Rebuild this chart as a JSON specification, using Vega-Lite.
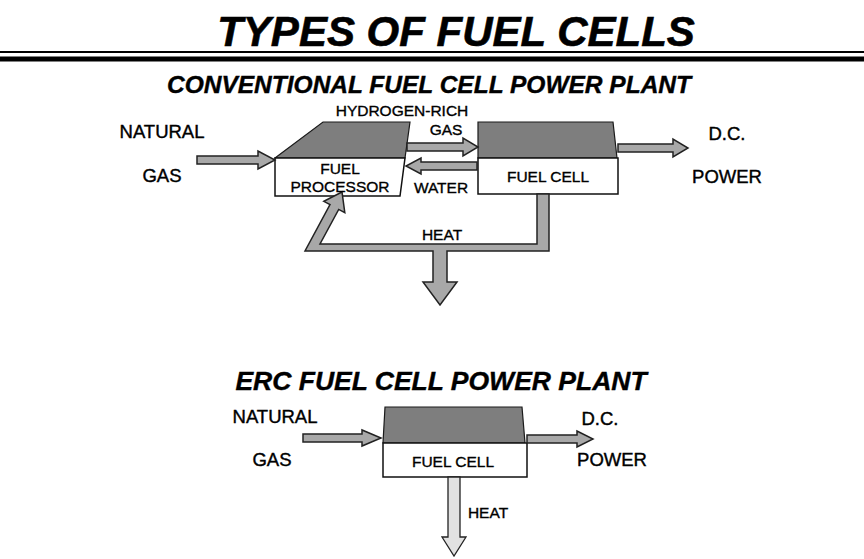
{
  "$schema": "https://vega.github.io/schema/vega-lite/v6.json",
  "width": 864,
  "height": 559,
  "padding": 0,
  "autosize": {"type": "none"},
  "background": "white",
  "config": {"view": {"stroke": null}},
  "datasets": {
    "shapes": [
      {"id": "proc_top", "kind": "top", "i": 1, "x": 275, "y": 158},
      {"id": "proc_top", "kind": "top", "i": 2, "x": 323, "y": 122},
      {"id": "proc_top", "kind": "top", "i": 3, "x": 410, "y": 122},
      {"id": "proc_top", "kind": "top", "i": 4, "x": 405, "y": 158},
      {"id": "proc_box", "kind": "box", "i": 1, "x": 275, "y": 158},
      {"id": "proc_box", "kind": "box", "i": 2, "x": 405, "y": 158},
      {"id": "proc_box", "kind": "box", "i": 3, "x": 400, "y": 196},
      {"id": "proc_box", "kind": "box", "i": 4, "x": 275, "y": 196},
      {"id": "fc_top", "kind": "top", "i": 1, "x": 478, "y": 122},
      {"id": "fc_top", "kind": "top", "i": 2, "x": 613, "y": 122},
      {"id": "fc_top", "kind": "top", "i": 3, "x": 617, "y": 158},
      {"id": "fc_top", "kind": "top", "i": 4, "x": 478, "y": 158},
      {"id": "fc_box", "kind": "box", "i": 1, "x": 478, "y": 158},
      {"id": "fc_box", "kind": "box", "i": 2, "x": 618, "y": 158},
      {"id": "fc_box", "kind": "box", "i": 3, "x": 618, "y": 194},
      {"id": "fc_box", "kind": "box", "i": 4, "x": 478, "y": 194},
      {"id": "erc_top", "kind": "top", "i": 1, "x": 385, "y": 407},
      {"id": "erc_top", "kind": "top", "i": 2, "x": 522, "y": 407},
      {"id": "erc_top", "kind": "top", "i": 3, "x": 525, "y": 443},
      {"id": "erc_top", "kind": "top", "i": 4, "x": 383, "y": 443},
      {"id": "erc_box", "kind": "box", "i": 1, "x": 383, "y": 443},
      {"id": "erc_box", "kind": "box", "i": 2, "x": 527, "y": 443},
      {"id": "erc_box", "kind": "box", "i": 3, "x": 527, "y": 477},
      {"id": "erc_box", "kind": "box", "i": 4, "x": 383, "y": 477},

      {"id": "ng1", "kind": "arrow", "i": 1, "x": 197, "y": 156},
      {"id": "ng1", "kind": "arrow", "i": 2, "x": 258, "y": 156},
      {"id": "ng1", "kind": "arrow", "i": 3, "x": 258, "y": 151},
      {"id": "ng1", "kind": "arrow", "i": 4, "x": 275, "y": 160},
      {"id": "ng1", "kind": "arrow", "i": 5, "x": 258, "y": 169},
      {"id": "ng1", "kind": "arrow", "i": 6, "x": 258, "y": 164},
      {"id": "ng1", "kind": "arrow", "i": 7, "x": 197, "y": 164},

      {"id": "h2", "kind": "arrow", "i": 1, "x": 407, "y": 143},
      {"id": "h2", "kind": "arrow", "i": 2, "x": 463, "y": 143},
      {"id": "h2", "kind": "arrow", "i": 3, "x": 463, "y": 138},
      {"id": "h2", "kind": "arrow", "i": 4, "x": 478, "y": 147},
      {"id": "h2", "kind": "arrow", "i": 5, "x": 463, "y": 156},
      {"id": "h2", "kind": "arrow", "i": 6, "x": 463, "y": 151},
      {"id": "h2", "kind": "arrow", "i": 7, "x": 407, "y": 151},

      {"id": "water", "kind": "arrow", "i": 1, "x": 477, "y": 162},
      {"id": "water", "kind": "arrow", "i": 2, "x": 421, "y": 162},
      {"id": "water", "kind": "arrow", "i": 3, "x": 421, "y": 158},
      {"id": "water", "kind": "arrow", "i": 4, "x": 406, "y": 166},
      {"id": "water", "kind": "arrow", "i": 5, "x": 421, "y": 174},
      {"id": "water", "kind": "arrow", "i": 6, "x": 421, "y": 170},
      {"id": "water", "kind": "arrow", "i": 7, "x": 477, "y": 170},

      {"id": "dc1", "kind": "arrow", "i": 1, "x": 618, "y": 144},
      {"id": "dc1", "kind": "arrow", "i": 2, "x": 673, "y": 144},
      {"id": "dc1", "kind": "arrow", "i": 3, "x": 673, "y": 139},
      {"id": "dc1", "kind": "arrow", "i": 4, "x": 688, "y": 148},
      {"id": "dc1", "kind": "arrow", "i": 5, "x": 673, "y": 157},
      {"id": "dc1", "kind": "arrow", "i": 6, "x": 673, "y": 152},
      {"id": "dc1", "kind": "arrow", "i": 7, "x": 618, "y": 152},

      {"id": "heat1", "kind": "arrow", "i": 1, "x": 537, "y": 194},
      {"id": "heat1", "kind": "arrow", "i": 2, "x": 549, "y": 194},
      {"id": "heat1", "kind": "arrow", "i": 3, "x": 549, "y": 251},
      {"id": "heat1", "kind": "arrow", "i": 4, "x": 447, "y": 251},
      {"id": "heat1", "kind": "arrow", "i": 5, "x": 447, "y": 282},
      {"id": "heat1", "kind": "arrow", "i": 6, "x": 457, "y": 282},
      {"id": "heat1", "kind": "arrow", "i": 7, "x": 440, "y": 305},
      {"id": "heat1", "kind": "arrow", "i": 8, "x": 423, "y": 282},
      {"id": "heat1", "kind": "arrow", "i": 9, "x": 433, "y": 282},
      {"id": "heat1", "kind": "arrow", "i": 10, "x": 433, "y": 251},
      {"id": "heat1", "kind": "arrow", "i": 11, "x": 305, "y": 251},
      {"id": "heat1", "kind": "arrow", "i": 12, "x": 330, "y": 204.6},
      {"id": "heat1", "kind": "arrow", "i": 13, "x": 323.8, "y": 201.3},
      {"id": "heat1", "kind": "arrow", "i": 14, "x": 342, "y": 192},
      {"id": "heat1", "kind": "arrow", "i": 15, "x": 344.8, "y": 212.7},
      {"id": "heat1", "kind": "arrow", "i": 16, "x": 338.7, "y": 209.4},
      {"id": "heat1", "kind": "arrow", "i": 17, "x": 320, "y": 244},
      {"id": "heat1", "kind": "arrow", "i": 18, "x": 537, "y": 244},

      {"id": "ng2", "kind": "arrow", "i": 1, "x": 303, "y": 434},
      {"id": "ng2", "kind": "arrow", "i": 2, "x": 362, "y": 434},
      {"id": "ng2", "kind": "arrow", "i": 3, "x": 362, "y": 430},
      {"id": "ng2", "kind": "arrow", "i": 4, "x": 381, "y": 438},
      {"id": "ng2", "kind": "arrow", "i": 5, "x": 362, "y": 446},
      {"id": "ng2", "kind": "arrow", "i": 6, "x": 362, "y": 442},
      {"id": "ng2", "kind": "arrow", "i": 7, "x": 303, "y": 442},

      {"id": "dc2", "kind": "arrow", "i": 1, "x": 527, "y": 435},
      {"id": "dc2", "kind": "arrow", "i": 2, "x": 577, "y": 435},
      {"id": "dc2", "kind": "arrow", "i": 3, "x": 577, "y": 431},
      {"id": "dc2", "kind": "arrow", "i": 4, "x": 593, "y": 439},
      {"id": "dc2", "kind": "arrow", "i": 5, "x": 577, "y": 447},
      {"id": "dc2", "kind": "arrow", "i": 6, "x": 577, "y": 443},
      {"id": "dc2", "kind": "arrow", "i": 7, "x": 527, "y": 443},

      {"id": "heat2", "kind": "light", "i": 1, "x": 448, "y": 477},
      {"id": "heat2", "kind": "light", "i": 2, "x": 460, "y": 477},
      {"id": "heat2", "kind": "light", "i": 3, "x": 460, "y": 537},
      {"id": "heat2", "kind": "light", "i": 4, "x": 466, "y": 537},
      {"id": "heat2", "kind": "light", "i": 5, "x": 454, "y": 556},
      {"id": "heat2", "kind": "light", "i": 6, "x": 442, "y": 537},
      {"id": "heat2", "kind": "light", "i": 7, "x": 448, "y": 537}
    ],
    "rules": [
      {"line": "thin", "x": 0, "x2": 864, "y": 52},
      {"line": "thick", "x": 0, "x2": 864, "y": 59}
    ],
    "texts": [
      {"role": "title", "text": "TYPES OF FUEL CELLS", "x": 456, "y": 46},
      {"role": "sub", "text": "CONVENTIONAL FUEL CELL POWER PLANT", "x": 429, "y": 93},
      {"role": "sub2", "text": "ERC FUEL CELL POWER PLANT", "x": 441, "y": 390},
      {"role": "big", "text": "NATURAL", "x": 162, "y": 138},
      {"role": "big", "text": "GAS", "x": 162, "y": 182},
      {"role": "big", "text": "D.C.", "x": 727, "y": 140},
      {"role": "big", "text": "POWER", "x": 727, "y": 183},
      {"role": "big", "text": "NATURAL", "x": 275, "y": 423},
      {"role": "big", "text": "GAS", "x": 272, "y": 466},
      {"role": "big", "text": "D.C.", "x": 600, "y": 425},
      {"role": "big", "text": "POWER", "x": 612, "y": 466},
      {"role": "small", "text": "HYDROGEN-RICH", "x": 402, "y": 116},
      {"role": "small", "text": "GAS", "x": 446, "y": 135},
      {"role": "small", "text": "FUEL", "x": 340, "y": 174},
      {"role": "small", "text": "PROCESSOR", "x": 340, "y": 192},
      {"role": "small", "text": "WATER", "x": 441, "y": 193},
      {"role": "small", "text": "FUEL CELL", "x": 548, "y": 182},
      {"role": "small", "text": "HEAT", "x": 442, "y": 240},
      {"role": "small", "text": "FUEL CELL", "x": 453, "y": 467},
      {"role": "small", "text": "HEAT", "x": 488, "y": 518}
    ]
  },
  "encoding": {
    "x": {"field": "x", "type": "quantitative", "scale": {"domain": [0, 864], "nice": false, "zero": false}, "axis": null},
    "y": {"field": "y", "type": "quantitative", "scale": {"domain": [0, 559], "reverse": true, "nice": false, "zero": false}, "axis": null}
  },
  "layer": [
    {
      "data": {"name": "shapes"},
      "transform": [{"filter": "datum.kind === 'top'"}],
      "mark": {"type": "line", "interpolate": "linear-closed", "fill": "#7e7e7e", "stroke": "#1a1a1a", "strokeWidth": 1.2},
      "encoding": {"detail": {"field": "id"}, "order": {"field": "i", "type": "quantitative"}}
    },
    {
      "data": {"name": "shapes"},
      "transform": [{"filter": "datum.kind === 'box'"}],
      "mark": {"type": "line", "interpolate": "linear-closed", "fill": "#ffffff", "stroke": "#111111", "strokeWidth": 1.5},
      "encoding": {"detail": {"field": "id"}, "order": {"field": "i", "type": "quantitative"}}
    },
    {
      "data": {"name": "shapes"},
      "transform": [{"filter": "datum.kind === 'arrow'"}],
      "mark": {"type": "line", "interpolate": "linear-closed", "fill": "#a8a8a8", "stroke": "#222222", "strokeWidth": 1.5},
      "encoding": {"detail": {"field": "id"}, "order": {"field": "i", "type": "quantitative"}}
    },
    {
      "data": {"name": "shapes"},
      "transform": [{"filter": "datum.kind === 'light'"}],
      "mark": {"type": "line", "interpolate": "linear-closed", "fill": "#e2e2e2", "stroke": "#222222", "strokeWidth": 1.3},
      "encoding": {"detail": {"field": "id"}, "order": {"field": "i", "type": "quantitative"}}
    },
    {
      "data": {"name": "rules"},
      "transform": [{"filter": "datum.line === 'thin'"}],
      "mark": {"type": "rule", "color": "#000000", "strokeWidth": 2},
      "encoding": {"x2": {"field": "x2"}}
    },
    {
      "data": {"name": "rules"},
      "transform": [{"filter": "datum.line === 'thick'"}],
      "mark": {"type": "rule", "color": "#000000", "strokeWidth": 5},
      "encoding": {"x2": {"field": "x2"}}
    },
    {
      "data": {"name": "texts"},
      "transform": [{"filter": "datum.role === 'title'"}],
      "mark": {"type": "text", "font": "Liberation Sans", "fontSize": 42, "fontWeight": "bold", "fontStyle": "italic", "align": "center", "baseline": "alphabetic", "color": "#000000", "stroke": "#000000", "strokeWidth": 0.6},
      "encoding": {"text": {"field": "text"}}
    },
    {
      "data": {"name": "texts"},
      "transform": [{"filter": "datum.role === 'sub'"}],
      "mark": {"type": "text", "font": "Liberation Sans", "fontSize": 24.5, "fontWeight": "bold", "fontStyle": "italic", "align": "center", "baseline": "alphabetic", "color": "#000000", "stroke": "#000000", "strokeWidth": 0.4},
      "encoding": {"text": {"field": "text"}}
    },
    {
      "data": {"name": "texts"},
      "transform": [{"filter": "datum.role === 'sub2'"}],
      "mark": {"type": "text", "font": "Liberation Sans", "fontSize": 26.5, "fontWeight": "bold", "fontStyle": "italic", "align": "center", "baseline": "alphabetic", "color": "#000000", "stroke": "#000000", "strokeWidth": 0.4},
      "encoding": {"text": {"field": "text"}}
    },
    {
      "data": {"name": "texts"},
      "transform": [{"filter": "datum.role === 'big'"}],
      "mark": {"type": "text", "font": "Liberation Sans", "fontSize": 18.5, "align": "center", "baseline": "alphabetic", "color": "#000000", "stroke": "#000000", "strokeWidth": 0.4},
      "encoding": {"text": {"field": "text"}}
    },
    {
      "data": {"name": "texts"},
      "transform": [{"filter": "datum.role === 'small'"}],
      "mark": {"type": "text", "font": "Liberation Sans", "fontSize": 15.5, "align": "center", "baseline": "alphabetic", "color": "#000000", "stroke": "#000000", "strokeWidth": 0.35},
      "encoding": {"text": {"field": "text"}}
    }
  ]
}
